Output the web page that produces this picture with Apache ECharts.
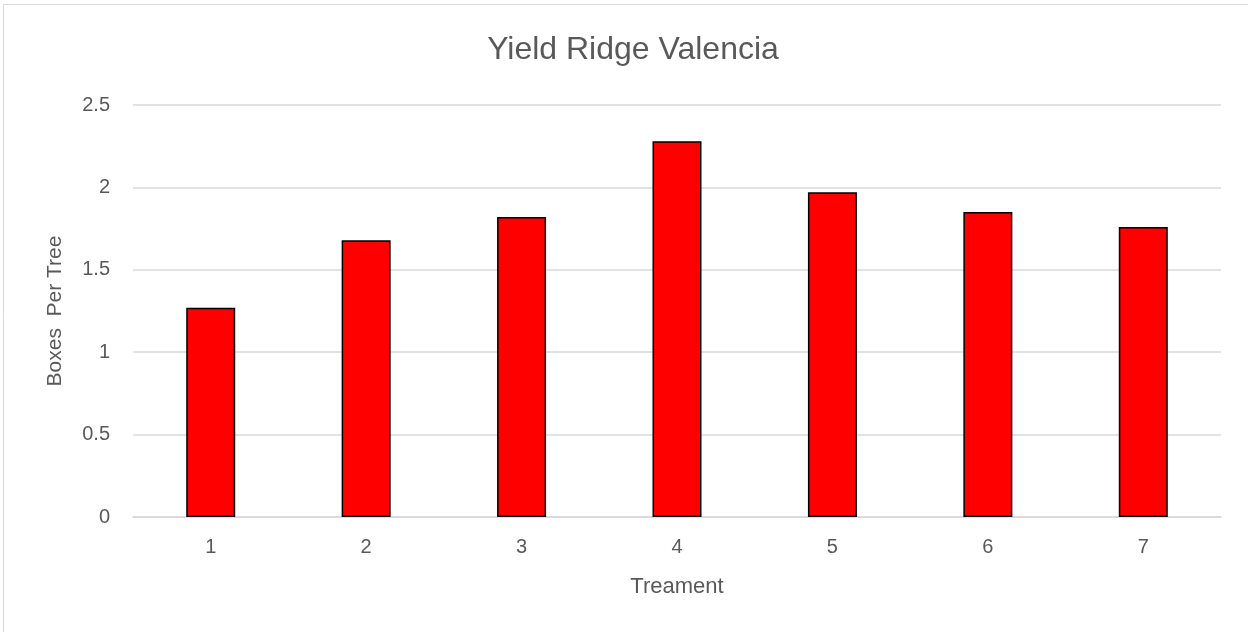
<!DOCTYPE html>
<html>
<head>
<meta charset="utf-8">
<script src="https://cdn.jsdelivr.net/npm/echarts@6/dist/echarts.min.js"></script>
<style>html,body{margin:0;padding:0;background:#fff}#c{width:1248px;height:632px}</style>
</head>
<body>
<div id="c"></div>
<script>
const categories = ['1','2','3','4','5','6','7'];
const boxesPerTree = [1.27, 1.68, 1.82, 2.28, 1.97, 1.85, 1.76];
const yTicks = [0, 0.5, 1, 1.5, 2, 2.5];

const chart = echarts.init(document.getElementById('c'));
const txt = '#595959';
const font = 'Liberation Sans, Arial, sans-serif';
chart.setOption({
  animation: false,
  graphic: [{
    type: 'rect', shape: {x: 3.5, y: 4.5, width: 1260, height: 640},
    style: {fill: 'none', stroke: '#d9d9d9', lineWidth: 1}, silent: true
  }],
  title: {
    text: 'Yield Ridge Valencia', left: 628, top: 29, textAlign: 'center',
    textStyle: {color: txt, fontSize: 32, fontWeight: 'normal', fontFamily: font}
  },
  grid: {left: 133, right: 27, top: 105, bottom: 115},
  xAxis: {
    type: 'category', data: categories,
    name: 'Treament', nameLocation: 'middle', nameGap: 59,
    nameTextStyle: {color: txt, fontSize: 22, fontFamily: font},
    axisLine: {show: true, lineStyle: {color: '#d9d9d9', width: 1.5}},
    axisTick: {show: false},
    axisLabel: {color: txt, fontSize: 20, fontFamily: font, margin: 20}
  },
  yAxis: {
    type: 'value', min: 0, max: 2.5, interval: 0.5,
    name: 'Boxes  Per Tree', nameLocation: 'middle', nameGap: 67, nameRotate: 90,
    nameTextStyle: {color: txt, fontSize: 21, fontFamily: font},
    axisLine: {show: false}, axisTick: {show: false},
    axisLabel: {color: txt, fontSize: 20, fontFamily: font, margin: 23,
      formatter: v => yTicks.includes(v) ? String(v) : ''},
    splitLine: {lineStyle: {color: '#d9d9d9', width: 1.5}}
  },
  series: [{
    type: 'bar', data: boxesPerTree, barWidth: 49,
    itemStyle: {color: '#ff0000', borderColor: '#000000', borderWidth: 1.5}
  }]
});
</script>
</body>
</html>
